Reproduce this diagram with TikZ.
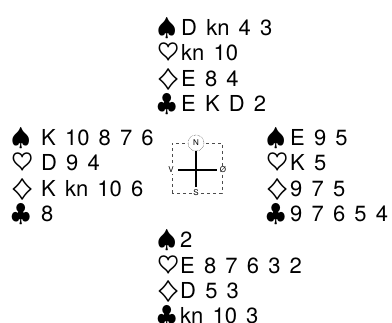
\documentclass[tikz,border=0pt]{standalone}
\usepackage{fontspec}
\setmainfont[WordSpace=1.5]{TeX Gyre Heros}
\usepackage{amsmath,amssymb}
\usetikzlibrary{positioning}

\newlength\suitw
\newcommand{\suitsym}[1]{\makebox[\suitw][l]{\fontsize{24}{24}\selectfont$#1$}}
\newcommand{\spd}{\suitsym{\spadesuit}}
\newcommand{\hrt}{\suitsym{\boldsymbol{\heartsuit}}}
\newcommand{\dmd}{\suitsym{\boldsymbol{\diamondsuit}}}
\newcommand{\clb}{\suitsym{\clubsuit}}

\begin{document}
\begin{tikzpicture}[x=1pt, y=1pt,
  hand/.style={anchor=north west, inner sep=0pt, align=left, font=\fontsize{22}{25.3}\selectfont},
  suit width/.code={\global\suitw=#1\relax},
  compass/.style={draw=black!70, dashed, thin},
  dirlabel/.style={font=\fontsize{8}{8}\selectfont, fill=white, inner sep=1pt}]
\useasboundingbox (0,0) rectangle (392,323);

% the four hands
\node[suit width=24pt, hand] (nord) at (157,305) {\spd D kn 4 3\\ \hrt kn 10\\ \dmd E 8 4\\ \clb E K D 2};
\node[suit width=30pt, hand] (vest) at (11,195) {\spd K 10 8 7 6\\ \hrt D 9 4\\ \dmd K kn 10 6\\ \clb 8};
\node[suit width=24pt, hand] (ost) at (266,195) {\spd E 9 5\\ \hrt K 5\\ \dmd 9 7 5\\ \clb 9 7 6 5 4};
\node[suit width=23pt, hand] (syd) at (157,92.5) {\spd 2\\ \hrt E 8 7 6 3 2\\ \dmd D 5 3\\ \clb kn 10 3};

% compass
\draw[compass] (172,130) rectangle (222,180);
\node[draw, circle, densely dotted, fill=white, inner sep=1pt, minimum size=16pt, font=\fontsize{8}{8}\selectfont] (n) at (196,180) {N};
\coordinate (s) at (196,136);
\coordinate (v) at (178,153);
\coordinate (o) at (217,153);
\draw[line width=1.5pt] (n) -- (s);
\draw[line width=1.5pt] (v) -- (o);
\node[dirlabel] (vl) at (171,153) {V};
\node[dirlabel] (ol) at (223,153) {Ø};
\node[dirlabel] (sl) at (196,130) {S};
\end{tikzpicture}
\end{document}
